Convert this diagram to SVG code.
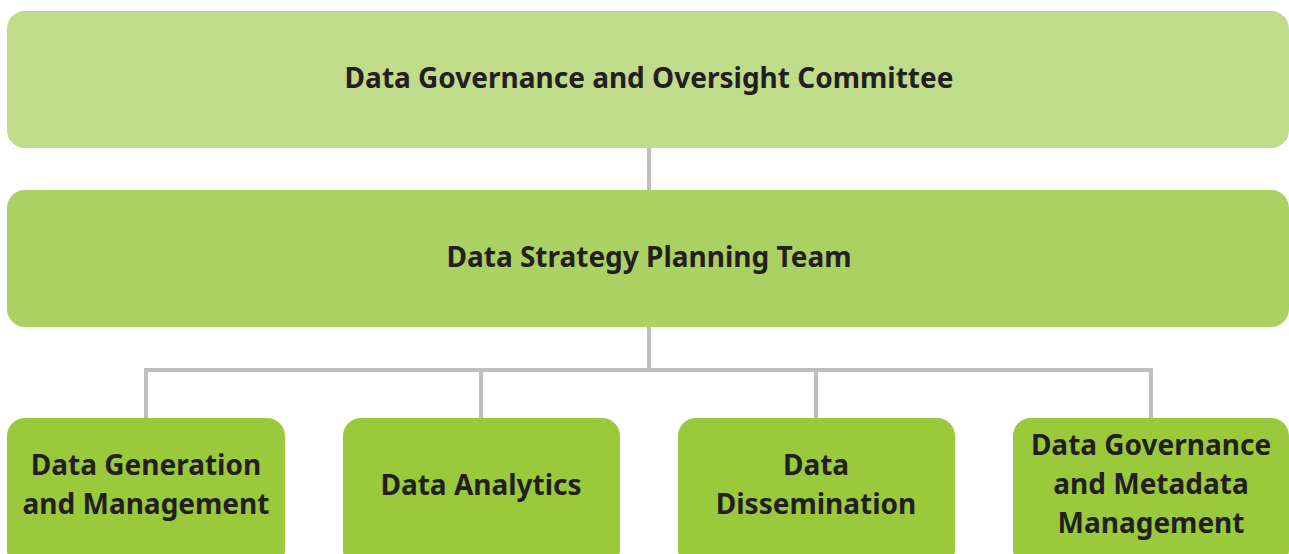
<svg xmlns="http://www.w3.org/2000/svg" width="1289" height="554" viewBox="0 0 1289 554">
<style>
.t{font-family:"Noto Sans","Open Sans","Liberation Sans",sans-serif;font-weight:bold;font-size:28px;fill:#231F20;text-anchor:middle}
.c{stroke:#BDBEC0;stroke-width:4;fill:none}
</style>
<rect width="1289" height="554" fill="#fff"/>
<g id="connectors">
<line class="c" x1="649" y1="148" x2="649" y2="190"/>
<line class="c" x1="649" y1="327" x2="649" y2="370"/>
<polyline class="c" points="146,418 146,370 1151,370 1151,418"/>
<line class="c" x1="481" y1="370" x2="481" y2="418"/>
<line class="c" x1="816" y1="370" x2="816" y2="418"/>
</g>
<g id="committee">
<rect x="7" y="11" width="1282" height="137" rx="18" fill="#C0DC8A"/>
<text class="t" x="649" y="88">Data Governance and Oversight Committee</text>
</g>
<g id="planning">
<rect x="7" y="190" width="1282" height="137" rx="18" fill="#ABD163"/>
<text class="t" x="649" y="267">Data Strategy Planning Team</text>
</g>
<g id="generation">
<rect x="7" y="418" width="278" height="150" rx="18" fill="#9ACA3C"/>
<text class="t" x="146" y="475">Data Generation</text>
<text class="t" x="146" y="514">and Management</text>
</g>
<g id="analytics">
<rect x="343" y="418" width="277" height="150" rx="18" fill="#9ACA3C"/>
<text class="t" x="481" y="495">Data Analytics</text>
</g>
<g id="dissemination">
<rect x="678" y="418" width="277" height="150" rx="18" fill="#9ACA3C"/>
<text class="t" x="816" y="475">Data</text>
<text class="t" x="816" y="514">Dissemination</text>
</g>
<g id="metadata">
<rect x="1013" y="418" width="276" height="150" rx="18" fill="#9ACA3C"/>
<text class="t" x="1151" y="455">Data Governance</text>
<text class="t" x="1151" y="494">and Metadata</text>
<text class="t" x="1151" y="533">Management</text>
</g>
</svg>
